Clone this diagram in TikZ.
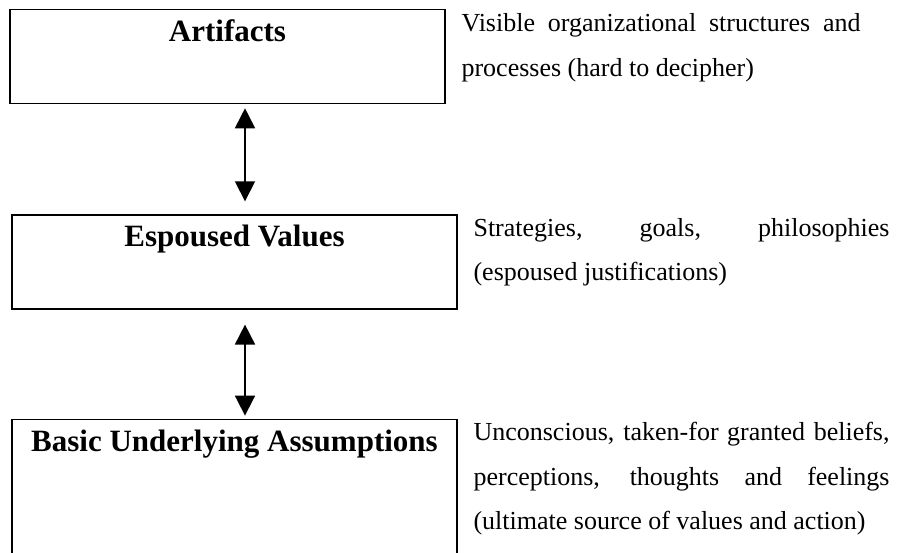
\documentclass[tikz,border=0pt]{standalone}
\usepackage{fontspec}
\setmainfont{Liberation Serif}
\usetikzlibrary{arrows.meta,positioning}
\hyphenpenalty=10000
\exhyphenpenalty=10000
\tolerance=10000

\begin{document}
\begin{tikzpicture}[<->,>={Triangle[width=20pt,length=20pt]},line width=1.8pt,
                    node distance=110pt]
  \tikzstyle{level}=[draw,line width=1.3pt,inner sep=0pt,minimum width=435pt,
                     text height=32pt,text depth=62pt,
                     font=\fontsize{31}{31}\selectfont\bfseries]
  \tikzstyle{note}=[anchor=base west,text width=416pt,align=justify,inner sep=0pt,
                    font=\fontsize{26}{44.5}\selectfont]

  \path[use as bounding box] (0,0) rectangle (906pt,-553pt);
  \clip (0,0) rectangle (906pt,-553pt);

  \node[level] (A) at (227.5pt,-9pt) [anchor=north] {Artifacts};
  \node[level] (B) [below=of A,xshift=7pt,minimum width=445pt] {Espoused Values};
  \node[level] (C) [below=109pt of B,minimum width=445pt,text depth=200pt]
                   {Basic Underlying Assumptions};

  \node[note] (D) at ([xshift=15pt,yshift=-23pt]A.north east) [text width=399pt]
       {Visible organizational structures and\linebreak processes (hard to decipher)};
  \node[note] (E) at ([xshift=15pt,yshift=-22pt]B.north east)
       {Strategies, goals, philosophies\linebreak (espoused justifications)};
  \node[note] (F) at ([xshift=15pt,yshift=-22pt]C.north east)
       {Unconscious, taken-for granted beliefs,\linebreak perceptions, thoughts and
        feelings\linebreak (ultimate source of values and action)};

  \path ([xshift=17.5pt,yshift=-4pt]A.south) edge ([xshift=10.5pt,yshift=13pt]B.north)
        ([xshift=10.5pt,yshift=-15pt]B.south) edge ([xshift=10.5pt,yshift=3pt]C.north);
\end{tikzpicture}
\end{document}
